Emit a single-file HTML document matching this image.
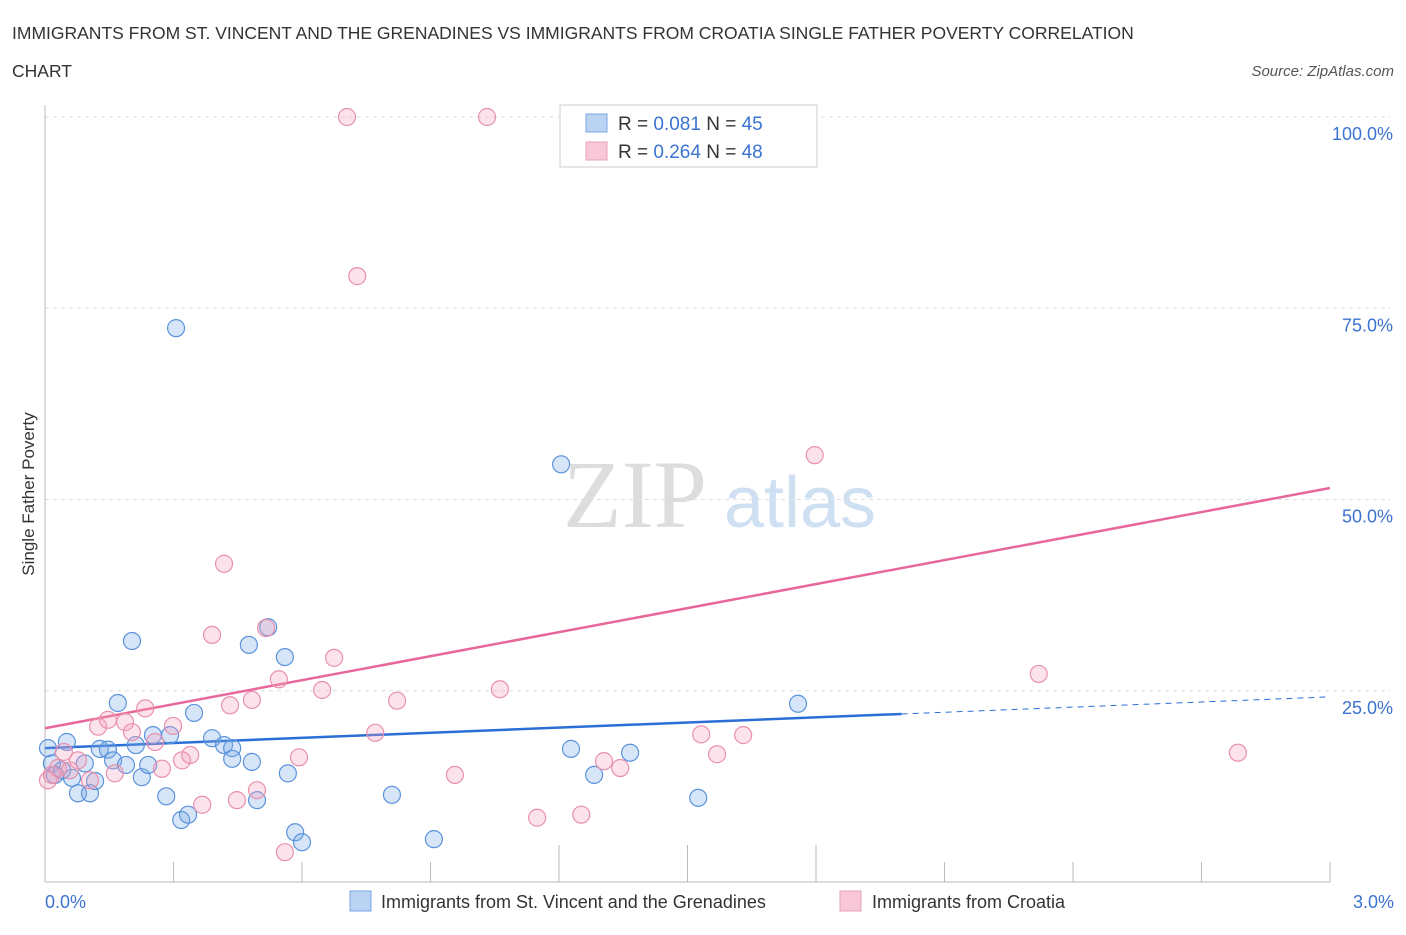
<!DOCTYPE html>
<html><head><meta charset="utf-8"><style>
body{margin:0;background:#fff;font-family:"Liberation Sans",sans-serif;}
</style></head><body>
<svg width="1406" height="930" xmlns="http://www.w3.org/2000/svg" id="chart">
<text x="12" y="39" font-size="17.5" fill="#333">IMMIGRANTS FROM ST. VINCENT AND THE GRENADINES VS IMMIGRANTS FROM CROATIA SINGLE FATHER POVERTY CORRELATION</text>
<text x="12" y="77" font-size="17.5" fill="#333">CHART</text>
<text x="1394" y="76" font-size="15" fill="#555" font-style="italic" text-anchor="end">Source: ZipAtlas.com</text>
<text x="635" y="527" font-size="96" fill="#ddd" font-family="Liberation Serif" text-anchor="middle">ZIP</text>
<text x="800" y="527" font-size="72" fill="#cfe0f3" text-anchor="middle">atlas</text>
<g id="grid"></g>
<line x1="45" y1="105" x2="45" y2="882" stroke="#bbb"/>
<line x1="45" y1="882" x2="1330" y2="882" stroke="#bbb"/>
<g id="ticks"></g>
<text transform="translate(34,494) rotate(-90)" font-size="17" fill="#333" text-anchor="middle">Single Father Poverty</text>
<text x="45" y="908" font-size="18" fill="#3b73d0">0.0%</text>
<text x="1394" y="908" font-size="18" fill="#3b73d0" text-anchor="end">3.0%</text>
<g id="lines"></g>
<g id="points"></g>
<g>
<rect x="560" y="105" width="257" height="62" fill="#fff" stroke="#ccc"/>
<rect x="586" y="114" width="21" height="18" fill="#b9d3f3" stroke="#7aa6e0"/>
<text x="618" y="130" font-size="19" fill="#333">R = <tspan fill="#3b73d0">0.081</tspan>   N = <tspan fill="#3b73d0">45</tspan></text>
<rect x="586" y="142" width="21" height="18" fill="#f8c8d8" stroke="#e9a0b8"/>
<text x="618" y="158" font-size="19" fill="#333">R = <tspan fill="#3b73d0">0.264</tspan>   N = <tspan fill="#3b73d0">48</tspan></text>
</g>
<g>
<rect x="350" y="891" width="21" height="20" fill="#b9d3f3" stroke="#7aa6e0"/>
<text x="381" y="908" font-size="18" fill="#333">Immigrants from St. Vincent and the Grenadines</text>
<rect x="840" y="891" width="21" height="20" fill="#f8c8d8" stroke="#e9a0b8"/>
<text x="872" y="908" font-size="18" fill="#333">Immigrants from Croatia</text>
</g>
</svg>
<script>
const yTicks=[100,75,50,25];
const xTickCount=10;
const blueX=[0.007,0.016,0.023,0.040,0.051,0.063,0.077,0.093,0.105,0.117,0.128,0.147,0.159,0.170,0.189,0.203,0.212,0.226,0.241,0.252,0.283,0.292,0.306,0.318,0.334,0.348,0.390,0.418,0.437,0.437,0.476,0.483,0.495,0.521,0.560,0.567,0.584,0.600,0.810,0.908,1.205,1.228,1.282,1.366,1.525,1.758];
const blueY=[17.5,15.5,14.0,14.6,18.3,13.6,11.6,15.5,11.6,13.2,17.4,17.3,15.9,23.4,15.3,31.5,17.9,13.7,15.3,19.2,11.2,19.2,72.4,8.1,8.8,22.1,18.8,17.9,17.5,16.1,31.0,15.7,10.7,33.3,29.4,14.2,6.5,5.2,11.4,5.6,54.6,17.4,14.0,16.9,11.0,23.3];
const pinkX=[0.007,0.016,0.030,0.044,0.058,0.077,0.105,0.124,0.147,0.163,0.187,0.203,0.234,0.257,0.273,0.299,0.320,0.339,0.367,0.390,0.418,0.432,0.448,0.483,0.495,0.516,0.546,0.560,0.593,0.647,0.675,0.705,0.729,0.771,0.822,0.957,1.032,1.062,1.149,1.252,1.305,1.343,1.380,1.532,1.569,1.630,1.767,1.797,2.320,2.785];
const pinkY=[13.3,14.0,14.9,17.0,14.6,15.9,13.3,20.3,21.2,14.2,20.9,19.6,22.7,18.3,14.8,20.4,15.9,16.6,10.1,32.3,41.6,23.1,10.7,23.8,12.0,33.2,26.5,3.9,16.3,25.1,29.3,100,79.2,19.5,23.7,14.0,100,25.2,8.4,8.8,15.8,14.9,100,19.3,16.7,19.2,100,55.8,27.2,16.9];
const blueTrend=[17.5,24.2];
const pinkTrend=[20.1,51.5];
const NS='http://www.w3.org/2000/svg';
const X=v=>45+v/3*1285;
const Y=v=>882-v*7.65;
function mk(tag,attrs,parent){const e=document.createElementNS(NS,tag);for(const k in attrs)e.setAttribute(k,attrs[k]);document.getElementById(parent).appendChild(e);return e;}
yTicks.forEach(t=>{
 const l=mk('line',{x1:45,x2:1390,y1:Y(t),y2:Y(t),stroke:'#ddd','stroke-dasharray':'4,4'},'grid');
 
 
 const tx=mk('text',{x:1393,y:Y(t)+23,'font-size':18,fill:'#3b73d0','text-anchor':'end'},'grid');
 tx.textContent=t.toFixed(1)+'%';
 
 
});
for(let i=1;i<=xTickCount;i++){
 const x=X(i*0.3);
 const h=(i>=4&&i<=6)?37:20;
 const l=mk('line',{x1:x,x2:x,y1:882-h,y2:882,stroke:'#bbb'},'ticks');
 
 
}
let l=mk('line',{x1:X(0),y1:Y(blueTrend[0]),x2:X(2),y2:Y(blueTrend[0]+(blueTrend[1]-blueTrend[0])*2/3),stroke:'#2b6fd6','stroke-width':2.5},'lines');


l=mk('line',{x1:X(2),y1:Y(blueTrend[0]+(blueTrend[1]-blueTrend[0])*2/3),x2:X(3),y2:Y(blueTrend[1]),stroke:'#2b6fd6','stroke-width':1,'stroke-dasharray':'6,5'},'lines');


l=mk('line',{x1:X(0),y1:Y(pinkTrend[0]),x2:X(3),y2:Y(pinkTrend[1]),stroke:'#e8679a','stroke-width':2.5},'lines');


blueX.forEach((x,i)=>{
 const c=mk('circle',{cx:X(x),cy:Y(blueY[i]),r:8.5,fill:'rgba(120,170,230,0.3)',stroke:'#5b93dc','stroke-width':1.2},'points');
 
 
});
pinkX.forEach((x,i)=>{
 const c=mk('circle',{cx:X(x),cy:Y(pinkY[i]),r:8.5,fill:'rgba(245,160,190,0.3)',stroke:'#e891ad','stroke-width':1.2},'points');
 
 
});
</script>
</body></html>
